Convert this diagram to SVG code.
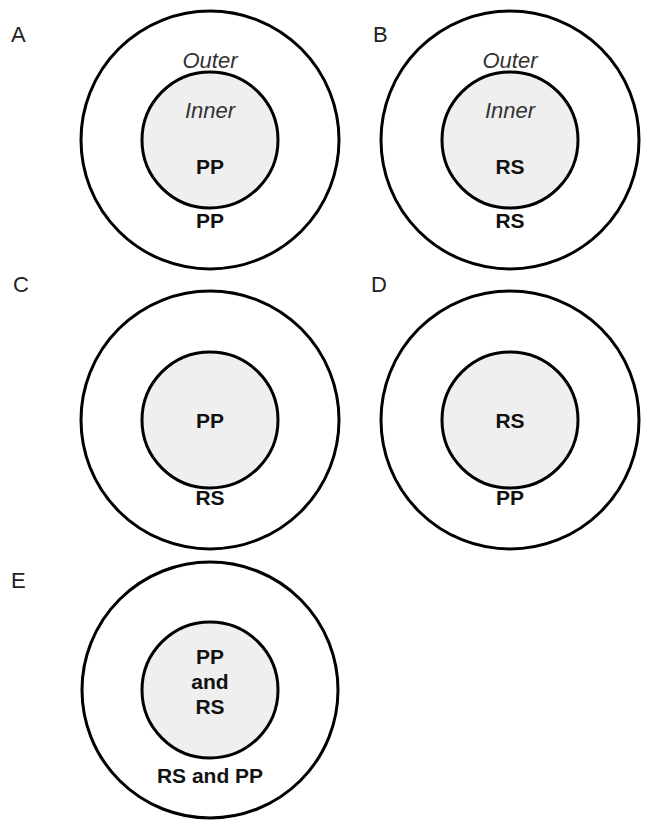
<svg xmlns="http://www.w3.org/2000/svg" width="655" height="821" viewBox="0 0 655 821">
<style>
.o{fill:#fff;stroke:#000;stroke-width:3}
.i{fill:#efefef;stroke:#000;stroke-width:3}
text{font-family:"Liberation Sans",Arial,sans-serif;fill:#111;text-anchor:middle}
.b{font-weight:bold;font-size:21px}
.it{font-style:italic;font-size:22px;fill:#333}
.lab{font-size:22px;text-anchor:start;fill:#222}
</style>
<rect width="655" height="821" fill="#fff"/>
<g id="A">
<text class="lab" x="11" y="42">A</text>
<circle class="o" cx="210" cy="140" r="129"/>
<circle class="i" cx="210" cy="140" r="68"/>
<text class="it" x="210" y="68">Outer</text>
<text class="it" x="210" y="118">Inner</text>
<text class="b" x="210" y="174">PP</text>
<text class="b" x="210" y="228">PP</text>
</g>
<g id="B">
<text class="lab" x="373" y="42">B</text>
<circle class="o" cx="510" cy="140" r="129"/>
<circle class="i" cx="510" cy="140" r="68"/>
<text class="it" x="510" y="68">Outer</text>
<text class="it" x="510" y="118">Inner</text>
<text class="b" x="510" y="174">RS</text>
<text class="b" x="510" y="228">RS</text>
</g>
<g id="C">
<text class="lab" x="13" y="292">C</text>
<circle class="o" cx="210" cy="420" r="129"/>
<circle class="i" cx="210" cy="420" r="68"/>
<text class="b" x="210" y="428">PP</text>
<text class="b" x="210" y="505">RS</text>
</g>
<g id="D">
<text class="lab" x="371" y="292">D</text>
<circle class="o" cx="510" cy="420" r="129"/>
<circle class="i" cx="510" cy="420" r="68"/>
<text class="b" x="510" y="428">RS</text>
<text class="b" x="510" y="505">PP</text>
</g>
<g id="E">
<text class="lab" x="11" y="588">E</text>
<circle class="o" cx="210" cy="690" r="128"/>
<circle class="i" cx="210" cy="690" r="68"/>
<text class="b" x="210" y="664">PP</text>
<text class="b" x="210" y="689">and</text>
<text class="b" x="210" y="714">RS</text>
<text class="b" x="210" y="783">RS and PP</text>
</g>
<g id="connectors"/>
</svg>
